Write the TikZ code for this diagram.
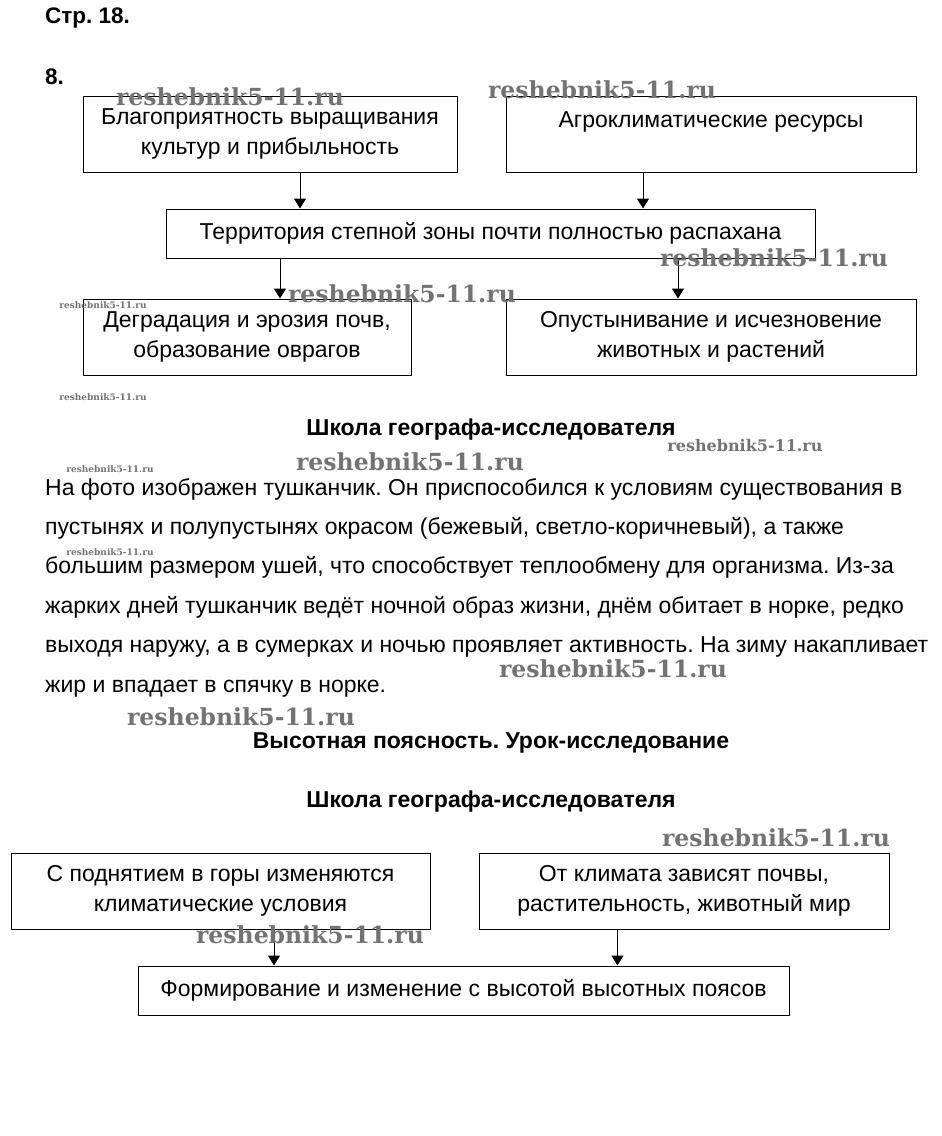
\documentclass[tikz,border=0pt]{standalone}
\usepackage{fontspec}
\setmainfont{Liberation Sans}
\newfontfamily\markfont{DejaVu Serif}
\usetikzlibrary{arrows.meta}
\frenchspacing

\begin{document}
\begin{tikzpicture}[x=1pt, y=-1pt, >=Latex,
    box/.style={draw, line width=1pt, inner sep=0pt, align=center,
      font=\fontsize{23}{29.5}\selectfont},
    arr/.style={-{Triangle[length=10pt,width=12pt]}, line width=1pt},
    head/.style={font=\bfseries\fontsize{23}{26}\selectfont},
    para/.style={anchor=base west, inner sep=0pt,
      font=\fontsize{23}{26}\selectfont},
    wmark/.style={text=black!55, inner sep=0pt}]
  \useasboundingbox (0,0) rectangle (942,1136);

  \node (page) at (45,18) [anchor=west, inner sep=0pt, font=\bfseries\fontsize{22.5}{24}\selectfont] {Стр. 18.};
  \node (num) at (45,77) [anchor=west, inner sep=0pt, font=\bfseries\fontsize{22.5}{24}\selectfont] {8.};

  % task 8
  \node (favor) at (270,134) [box, minimum width=374, minimum height=76]
    {Благоприятность выращивания\\культур и прибыльность};
  \node (agro) at (711,134) [box, minimum width=410, minimum height=76]
    {Агроклиматические ресурсы\\\phantom{Ш}};
  \node (steppe) at (490.5,233.5) [box, minimum width=649, minimum height=49]
    {Территория степной зоны почти полностью распахана};
  \node (erosion) at (247,337) [box, minimum width=328, minimum height=76]
    {Деградация и эрозия почв,\\образование оврагов};
  \node (desert) at (711,337) [box, minimum width=410, minimum height=76]
    {Опустынивание и исчезновение\\животных и растений};

  \draw[arr] ([xshift=30]favor.south) -- ([xshift=30]favor.south |- steppe.north);
  \draw[arr] ([xshift=-68]agro.south) -- ([xshift=-68]agro.south |- steppe.north);
  \draw[arr] ([xshift=-210.5]steppe.south) -- ([xshift=-210.5]steppe.south |- erosion.north);
  \draw[arr] ([xshift=187.5]steppe.south) -- ([xshift=187.5]steppe.south |- desert.north);

  \node (school1) at (491,430) [head] {Школа географа-исследователя};
  \foreach \t [count=\i] in {
      {На фото изображен тушканчик. Он приспособился к условиям существования в},
      {пустынях и полупустынях окрасом (бежевый, светло-коричневый), а также},
      {большим размером ушей, что способствует теплообмену для организма. Из-за},
      {жарких дней тушканчик ведёт ночной образ жизни, днём обитает в норке, редко},
      {выходя наружу, а в сумерках и ночью проявляет активность. На зиму накапливает},
      {жир и впадает в спячку в норке.}}
    \node (line\i) at (45,455.6+39.4*\i) [para] {\t};

  \node (lesson) at (491,743) [head] {Высотная поясность. Урок-исследование};
  \node (school2) at (491,802) [head] {Школа географа-исследователя};

  % altitude zones
  \node (mount) at (220.5,891) [box, minimum width=419, minimum height=76]
    {С поднятием в горы изменяются\\климатические условия};
  \node (climate) at (684,891) [box, minimum width=410, minimum height=76]
    {От климата зависят почвы,\\растительность, животный мир};
  \node (zones) at (463.5,990.5) [box, minimum width=651, minimum height=49]
    {Формирование и изменение с высотой высотных поясов};

  \draw[arr] ([xshift=53.5]mount.south) -- ([xshift=53.5]mount.south |- zones.north);
  \draw[arr] ([xshift=-66.5]climate.south) -- ([xshift=-66.5]climate.south |- zones.north);

  % watermarks
  \foreach \x/\y/\s [count=\i] in {230/97/23.5, 602/90/23.5, 774/258/23.5, 402/294/23.5,
      103/305/9, 103/397/9, 745/446/16, 410/462/23.5, 110/469/9, 110/552/9,
      613/669/23.5, 241/717/23.5, 776/838/23.5, 310/935/23.5}
    \node (wm\i) at (\x,\y) [wmark, font={\markfont\bfseries\fontsize{\s}{\s}\selectfont}] {reshebnik5-11.ru};
\end{tikzpicture}
\end{document}
